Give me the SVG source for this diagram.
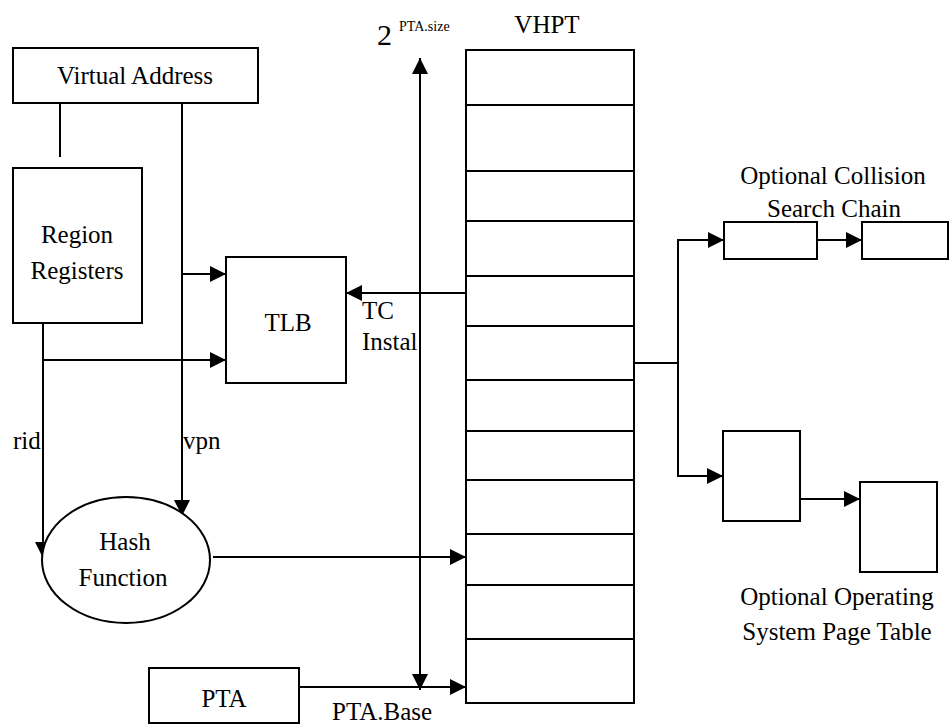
<svg xmlns="http://www.w3.org/2000/svg" width="949" height="727" viewBox="0 0 949 727">
<style>
.box{fill:#fff;stroke:#000;stroke-width:2}
.ln{fill:none;stroke:#000;stroke-width:2}
.ar{fill:none;stroke:#000;stroke-width:2;marker-end:url(#ah)}
.t{font-family:'Liberation Serif','DejaVu Serif',serif;font-size:25px;fill:#000}
.c{text-anchor:middle}
</style>
<defs>
<marker id="ah" markerUnits="userSpaceOnUse" markerWidth="17" markerHeight="16" refX="16" refY="8" orient="auto">
<path d="M0,0 L16,8 L0,16 z" fill="#000"/>
</marker>
<marker id="ahs" markerUnits="userSpaceOnUse" markerWidth="17" markerHeight="16" refX="0" refY="8" orient="auto">
<path d="M16,0 L0,8 L16,16 z" fill="#000"/>
</marker>
</defs>
<g id="connectors">
<line class="ln" x1="60" y1="103" x2="60" y2="157"/>
<line class="ar" x1="182" y1="103" x2="182" y2="516"/>
<line class="ar" x1="182" y1="274" x2="226" y2="274"/>
<line class="ar" x1="43" y1="305" x2="43" y2="558"/>
<line class="ar" x1="43" y1="360" x2="226" y2="360"/>
<line class="ar" x1="466" y1="293" x2="346" y2="293"/>
<line x1="420" y1="58" x2="420" y2="690" style="fill:none;stroke:#000;stroke-width:2;marker-start:url(#ahs);marker-end:url(#ah)"/>
<line class="ar" x1="213" y1="557" x2="466" y2="557"/>
<line class="ar" x1="299" y1="687" x2="466" y2="687"/>
<polyline class="ln" points="634,363 678,363"/>
<line class="ln" x1="678" y1="240" x2="678" y2="476"/>
<line class="ar" x1="677" y1="240" x2="724" y2="240"/>
<line class="ar" x1="677" y1="476" x2="723" y2="476"/>
<line class="ar" x1="817" y1="240" x2="862" y2="240"/>
<line class="ar" x1="800" y1="499" x2="860" y2="499"/>
</g>
<g id="virtual-address">
<rect class="box" x="13" y="48" width="245" height="55"/>
<text class="t c" x="135" y="84">Virtual Address</text>
</g>
<g id="region-registers">
<rect class="box" x="13" y="168" width="129" height="155"/>
<text class="t c" x="77" y="243">Region</text>
<text class="t c" x="77" y="279">Registers</text>
</g>
<g id="tlb">
<rect class="box" x="226" y="257" width="120" height="126"/>
<text class="t c" x="288" y="331">TLB</text>
</g>
<g id="hash-function">
<ellipse class="box" cx="126" cy="560" rx="84" ry="63"/>
<text class="t c" x="125" y="550">Hash</text>
<text class="t c" x="123" y="586">Function</text>
</g>
<g id="pta">
<rect class="box" x="149" y="668" width="150" height="55"/>
<text class="t c" x="224" y="707">PTA</text>
</g>
<g id="vhpt">
<rect class="box" x="466" y="50" width="168" height="653"/>
<path class="ln" d="M466,105H634M466,171H634M466,221H634M466,276H634M466,326H634M466,380H634M466,431H634M466,480H634M466,534H634M466,585H634M466,639H634"/>
<text class="t c" x="547" y="33">VHPT</text>
</g>
<g id="collision-chain">
<rect class="box" x="724" y="222" width="93" height="37"/>
<rect class="box" x="862" y="222" width="86" height="37"/>
<text class="t c" x="833" y="184">Optional Collision</text>
<text class="t c" x="834" y="217">Search Chain</text>
</g>
<g id="os-page-table">
<rect class="box" x="723" y="431" width="77" height="90"/>
<rect class="box" x="860" y="482" width="77" height="90"/>
<text class="t c" x="837" y="605">Optional Operating</text>
<text class="t c" x="837" y="640">System Page Table</text>
</g>
<g id="labels">
<text class="t" x="377" y="45" style="font-size:30px">2</text>
<text class="t" x="399" y="31" style="font-size:14px">PTA.size</text>
<text class="t" x="362" y="319">TC</text>
<text class="t" x="362" y="350">Instal</text>
<text class="t" x="13" y="449">rid</text>
<text class="t" x="183" y="449">vpn</text>
<text class="t" x="332" y="720">PTA.Base</text>
</g>
</svg>
